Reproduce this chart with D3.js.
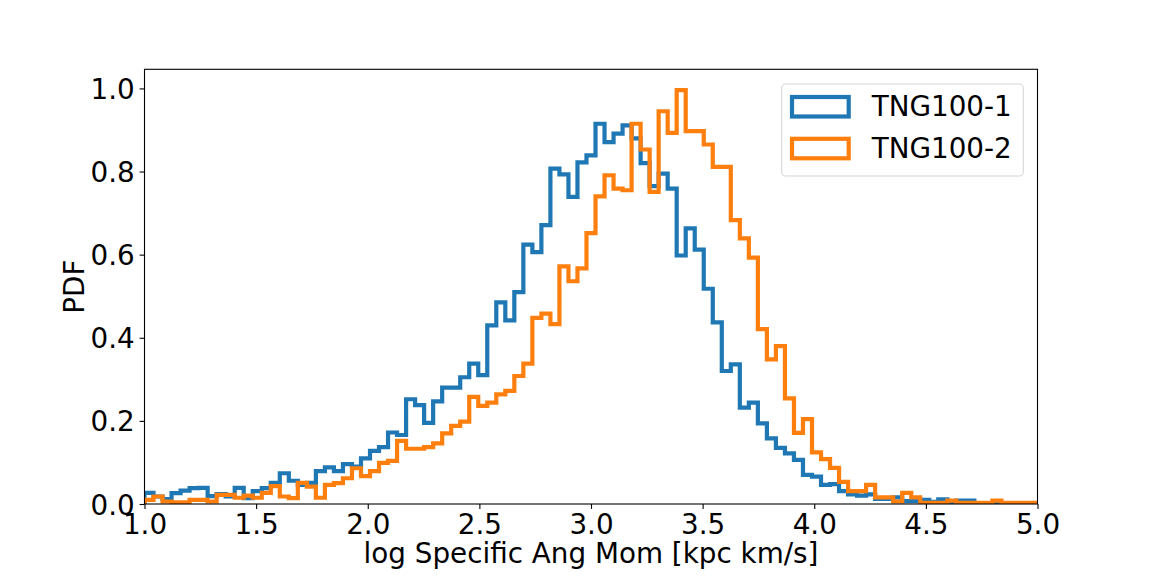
<!DOCTYPE html>
<html>
<head>
<meta charset="utf-8">
<script src="https://cdn.jsdelivr.net/npm/d3@7"></script>
<style>
  body { margin: 0; background: #fff; }
  text { font-family: 'DejaVu Sans', sans-serif; fill: #000; }
</style>
</head>
<body>
<script>
// histogram bins: 99 equal bins between binLo and binHi
const binLo = 1.0;
const binHi = 5.0;
const nBins = 99;

const seriesNames = ['TNG100-1', 'TNG100-2'];

const tng1 = [
  0.027, 0.018, 0.012, 0.026, 0.032, 0.038, 0.039, 0.019, 0.024, 0.018,
  0.039, 0.014, 0.031, 0.038, 0.051, 0.074, 0.056, 0.046, 0.051, 0.079,
  0.088, 0.079, 0.096, 0.090, 0.110, 0.128, 0.137, 0.172, 0.166, 0.252,
  0.238, 0.195, 0.247, 0.280, 0.280, 0.305, 0.338, 0.310, 0.430, 0.485,
  0.442, 0.510, 0.624, 0.606, 0.671, 0.807, 0.793, 0.739, 0.822, 0.839,
  0.915, 0.871, 0.891, 0.911, 0.880, 0.820, 0.765, 0.795, 0.759, 0.598,
  0.663, 0.612, 0.518, 0.437, 0.320, 0.336, 0.232, 0.244, 0.194, 0.158,
  0.135, 0.122, 0.106, 0.070, 0.066, 0.046, 0.048, 0.031, 0.023, 0.020,
  0.023, 0.012, 0.012, 0.016, 0.007, 0.007, 0.010, 0.005, 0.011, 0.005,
  0.008, 0.008, 0.000, 0.000, 0.000, 0.000, 0.000, 0.000, 0.000
];

const tng2 = [
  0.010, 0.018, 0.006, 0.004, 0.004, 0.010, 0.010, 0.006, 0.022, 0.022,
  0.015, 0.020, 0.015, 0.027, 0.043, 0.018, 0.014, 0.051, 0.042, 0.015,
  0.046, 0.050, 0.062, 0.086, 0.067, 0.079, 0.099, 0.104, 0.152, 0.133,
  0.133, 0.137, 0.146, 0.170, 0.188, 0.198, 0.258, 0.236, 0.244, 0.264,
  0.272, 0.308, 0.338, 0.448, 0.458, 0.433, 0.572, 0.536, 0.567, 0.652,
  0.740, 0.791, 0.759, 0.755, 0.915, 0.853, 0.751, 0.945, 0.893, 0.996,
  0.897, 0.897, 0.865, 0.811, 0.811, 0.683, 0.639, 0.593, 0.421, 0.348,
  0.380, 0.254, 0.171, 0.204, 0.124, 0.108, 0.087, 0.053, 0.031, 0.031,
  0.046, 0.016, 0.016, 0.006, 0.027, 0.016, 0.003, 0.003, 0.003, 0.008,
  0.003, 0.003, 0.003, 0.003, 0.008, 0.003, 0.003, 0.003, 0.003
];

const xTicks = [1.0, 1.5, 2.0, 2.5, 3.0, 3.5, 4.0, 4.5, 5.0];
const yTicks = [0.0, 0.2, 0.4, 0.6, 0.8, 1.0];

const xLabel = 'log Specific Ang Mom [kpc km/s]';
const yLabel = 'PDF';

const w = 1152;
const h = 576;
const plotLeft = 144.5, plotRight = 1037.5, plotTop = 69.3, plotBottom = 504;
const fontSize = 27.8;
const colors = ['#1f77b4', '#ff7f0e'];

const svg = d3.select('body').append('svg').attr('width', w).attr('height', h);

const xScale = d3.scaleLinear().domain([1, 5]).range([plotLeft, plotRight]);
const yScale = d3.scaleLinear().domain([0, 1.046]).range([plotBottom, plotTop]);

svg.append('defs').append('clipPath').attr('id', 'plot-clip')
  .append('rect')
  .attr('x', plotLeft).attr('y', plotTop)
  .attr('width', plotRight - plotLeft).attr('height', plotBottom - plotTop);

const edges = d3.range(nBins + 1).map((i) => binLo + (i * (binHi - binLo)) / nBins);

// outline of a step histogram, from baseline up and back down
const stepPoints = (vals) => {
  const pts = [[edges[0], 0]];
  vals.forEach((v, i) => {
    pts.push([edges[i], v]);
    pts.push([edges[i + 1], v]);
  });
  pts.push([edges[nBins], 0]);
  return pts;
};

const line = d3.line()
  .x((d) => xScale(d[0]))
  .y((d) => yScale(d[1]));

const plot = svg.append('g').attr('clip-path', 'url(#plot-clip)');
[tng1, tng2].forEach((vals, i) => {
  plot.append('path')
    .attr('d', line(stepPoints(vals)))
    .attr('fill', 'none')
    .attr('stroke', colors[i])
    .attr('stroke-width', 4.2)
    .attr('stroke-linejoin', 'miter');
});

// axes
const xAxis = d3.axisBottom(xScale)
  .tickValues(xTicks)
  .tickFormat(d3.format('.1f'))
  .tickSize(4.9)
  .tickPadding(4.9);
const yAxis = d3.axisLeft(yScale)
  .tickValues(yTicks)
  .tickFormat(d3.format('.1f'))
  .tickSize(4.9)
  .tickPadding(4.9);

const gx = svg.append('g').attr('transform', `translate(0,${plotBottom})`).call(xAxis);
const gy = svg.append('g').attr('transform', `translate(${plotLeft},0)`).call(yAxis);
[gx, gy].forEach((g) => {
  g.select('.domain').remove();
  g.selectAll('.tick line').attr('stroke', '#000').attr('stroke-width', 1.1);
  g.selectAll('.tick text')
    .style('font-family', "'DejaVu Sans', sans-serif")
    .style('font-size', `${fontSize}px`)
    .attr('fill', '#000');
});
gy.selectAll('.tick text').attr('dy', '0.36em');

svg.append('rect')
  .attr('x', plotLeft).attr('y', plotTop)
  .attr('width', plotRight - plotLeft).attr('height', plotBottom - plotTop)
  .attr('fill', 'none')
  .attr('stroke', '#000')
  .attr('stroke-width', 1.1);

svg.append('text')
  .attr('x', (plotLeft + plotRight) / 2)
  .attr('y', 563)
  .attr('text-anchor', 'middle')
  .style('font-size', `${fontSize}px`)
  .text(xLabel);

svg.append('text')
  .attr('transform', `translate(84,${(plotTop + plotBottom) / 2}) rotate(-90)`)
  .attr('text-anchor', 'middle')
  .style('font-size', `${fontSize}px`)
  .text(yLabel);

// legend
const legend = svg.append('g');
legend.append('rect')
  .attr('x', 781.7).attr('y', 84)
  .attr('width', 241.6).attr('height', 92)
  .attr('rx', 4)
  .attr('fill', '#fff').attr('fill-opacity', 0.8)
  .attr('stroke', '#d6d6d6').attr('stroke-width', 1.1);

seriesNames.forEach((name, i) => {
  const dy = i * 41.8;
  legend.append('rect')
    .attr('x', 792).attr('y', 97 + dy)
    .attr('width', 56.7).attr('height', 19.5)
    .attr('fill', 'none')
    .attr('stroke', colors[i])
    .attr('stroke-width', 4.2);
  legend.append('text')
    .attr('x', 871.7).attr('y', 116.2 + dy)
    .style('font-size', `${fontSize}px`)
    .text(name);
});
</script>
</body>
</html>
